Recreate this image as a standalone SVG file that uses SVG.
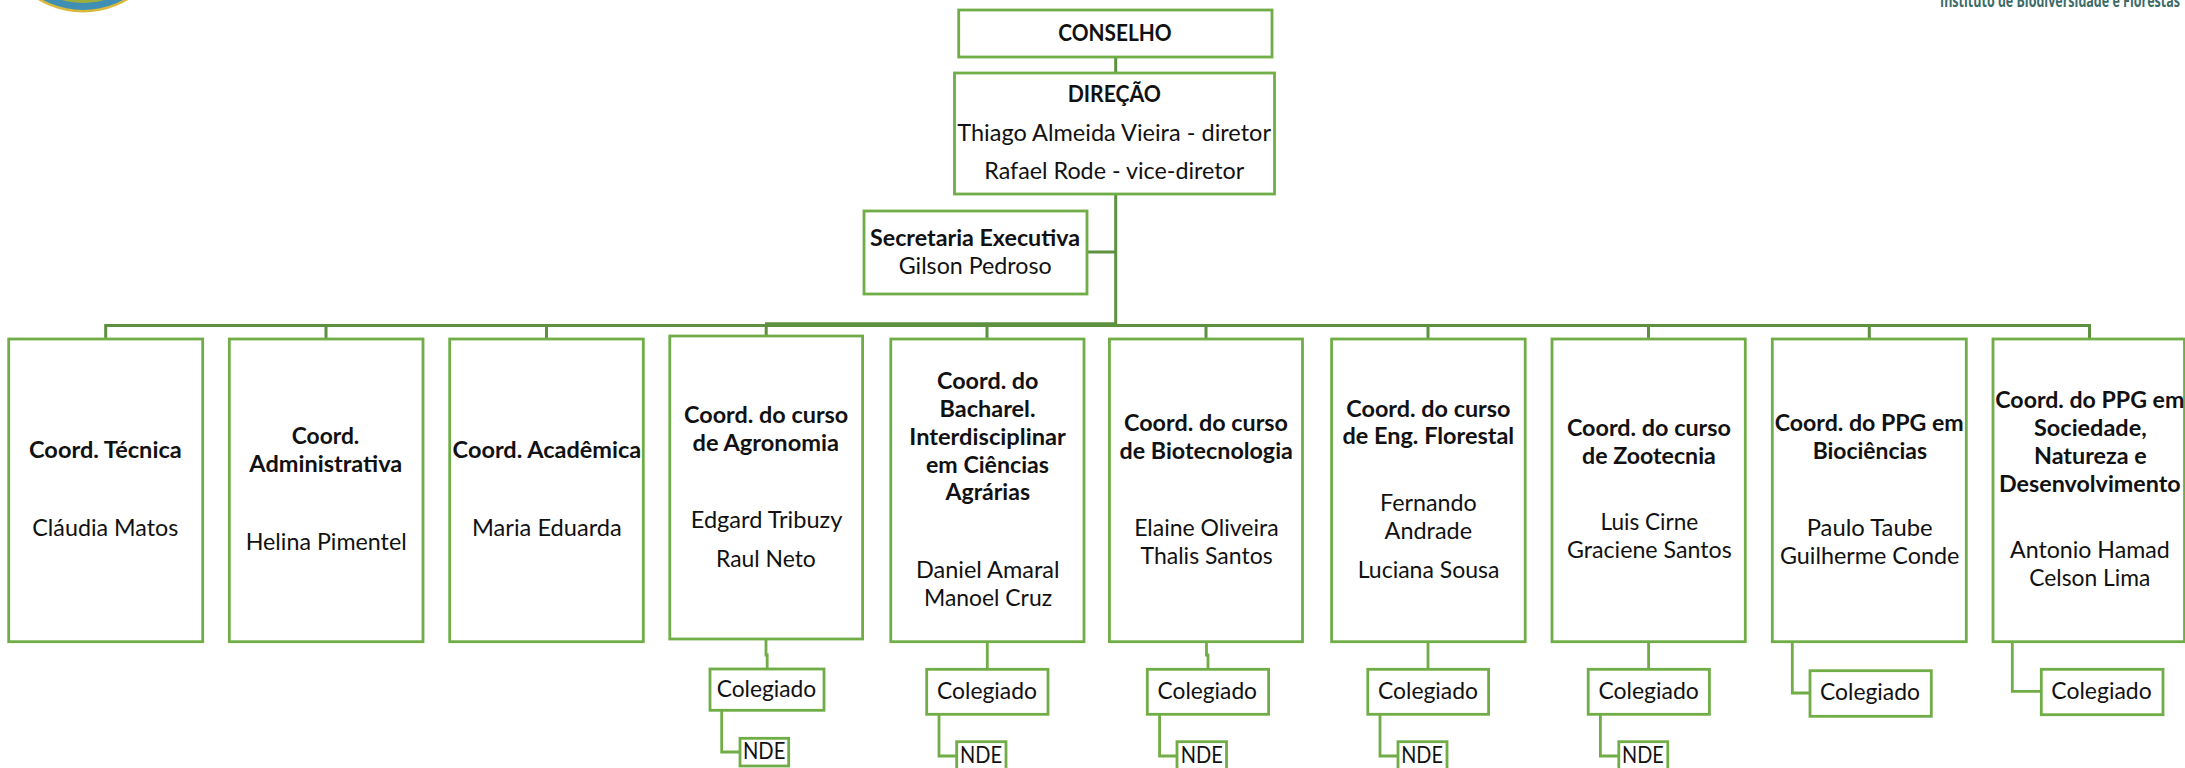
<svg xmlns="http://www.w3.org/2000/svg" width="2185" height="768" viewBox="0 0 2185 768">
<style>
.b{fill:#fff;stroke:#70ad47;stroke-width:2.8}
.c{fill:none;stroke:#70ad47;stroke-width:2.8}
.m{fill:none;stroke:#5d9140;stroke-width:3}
text{font-family:"Lato","Noto Sans",sans-serif;font-size:23px;fill:#111}
.t{font-weight:700}
</style>
<rect width="2185" height="768" fill="#fff"/>
<g id="logo-ufopa">
<circle cx="83" cy="-75" r="87.5" fill="#d9b93c"/>
<circle cx="83" cy="-75" r="85" fill="#3f8fb5"/>
<circle cx="83" cy="-75" r="78" fill="#9dae3c"/>
</g>
<g id="logo-ibef">
<text x="1940" y="6.5" textLength="240" lengthAdjust="spacingAndGlyphs" style="font-family:'Open Sans','Noto Sans',sans-serif;font-size:17px;font-weight:700;fill:#3d6b68">Instituto de Biodiversidade e Florestas</text>
</g>
<g id="connectors">
<path class="m" d="M1115.7 57V73M1115.7 194V325.5M1087 252H1115.7"/>
<path class="m" style="stroke-width:4" d="M765 324.3H1117"/>
<path class="m" d="M105.7 339V325.5H2089.5V339M326 325.5V339M546.5 325.5V339M766.2 325.5V336M987 325.5V339M1206 325.5V339M1428 325.5V339M1648.5 325.5V339M1869.3 325.5V339"/>
<path class="c" d="M766 639V655H767.2V669M987.3 641V669M1206.5 641V655H1208V669M1428 641V669M1648.6 641V669"/>
<path class="c" d="M721.7 710V752H740M939 714V756H956.7M1159.6 714V756H1177M1380 714V756H1398M1600.4 714V756H1618.8M1792.3 641V693H1810M2012.3 641V691.3H2041.3"/>
</g>
<g id="conselho"><rect class="b" x="958.7" y="10" width="313.3" height="47"/><text class="t" x="1058.3" y="40.7" textLength="113.4" lengthAdjust="spacingAndGlyphs">CONSELHO</text></g>
<g id="direcao"><rect class="b" x="954.5" y="73" width="320" height="121"/>
<text class="t" x="1067.7" y="101.7" textLength="93.3" lengthAdjust="spacingAndGlyphs">DIREÇÃO</text>
<text x="957.3" y="141.3" textLength="313.7" lengthAdjust="spacingAndGlyphs">Thiago Almeida Vieira - diretor</text>
<text x="984.3" y="179.3" textLength="260" lengthAdjust="spacingAndGlyphs">Rafael Rode - vice-diretor</text></g>
<g id="secretaria"><rect class="b" x="864" y="211" width="223" height="83"/>
<text class="t" x="870" y="246" textLength="210" lengthAdjust="spacingAndGlyphs">Secretaria Executiva</text>
<text x="898.7" y="274" textLength="153" lengthAdjust="spacingAndGlyphs">Gilson Pedroso</text></g>
<g id="coord-tecnica"><rect class="b" x="8.7" y="339" width="194" height="302.7"/>
<text class="t" x="29" y="458.3" textLength="152.7" lengthAdjust="spacingAndGlyphs">Coord. Técnica</text>
<text x="32.3" y="536" textLength="146" lengthAdjust="spacingAndGlyphs">Cláudia Matos</text></g>
<g id="coord-administrativa"><rect class="b" x="229.3" y="339" width="193.7" height="302.7"/>
<text class="t" x="291.7" y="444.3" textLength="67.6" lengthAdjust="spacingAndGlyphs">Coord.</text>
<text class="t" x="249.3" y="472.3" textLength="153" lengthAdjust="spacingAndGlyphs">Administrativa</text>
<text x="245.7" y="549.7" textLength="161" lengthAdjust="spacingAndGlyphs">Helina Pimentel</text></g>
<g id="coord-academica"><rect class="b" x="449.7" y="339" width="193.6" height="302.7"/>
<text class="t" x="452.6" y="458.3" textLength="188.6" lengthAdjust="spacingAndGlyphs">Coord. Acadêmica</text>
<text x="472" y="536" textLength="149.8" lengthAdjust="spacingAndGlyphs">Maria Eduarda</text></g>
<g id="coord-agronomia"><rect class="b" x="669.8" y="336" width="192.8" height="303"/>
<text class="t" x="684" y="422.7" textLength="164.3" lengthAdjust="spacingAndGlyphs">Coord. do curso</text>
<text class="t" x="692.5" y="450.7" textLength="146.5" lengthAdjust="spacingAndGlyphs">de Agronomia</text>
<text x="690.8" y="527.7" textLength="151.6" lengthAdjust="spacingAndGlyphs">Edgard Tribuzy</text>
<text x="716" y="566.7" textLength="99.8" lengthAdjust="spacingAndGlyphs">Raul Neto</text></g>
<g id="coord-bacharel"><rect class="b" x="890.8" y="339" width="193.2" height="302.7"/>
<text class="t" x="937" y="388.7" textLength="101.5" lengthAdjust="spacingAndGlyphs">Coord. do</text>
<text class="t" x="939.6" y="416.7" textLength="95.9" lengthAdjust="spacingAndGlyphs">Bacharel.</text>
<text class="t" x="909.3" y="444.7" textLength="156.5" lengthAdjust="spacingAndGlyphs">Interdisciplinar</text>
<text class="t" x="926" y="472.7" textLength="123" lengthAdjust="spacingAndGlyphs">em Ciências</text>
<text class="t" x="945.5" y="500.3" textLength="84.5" lengthAdjust="spacingAndGlyphs">Agrárias</text>
<text x="916" y="577.7" textLength="143.5" lengthAdjust="spacingAndGlyphs">Daniel Amaral</text>
<text x="924" y="605.7" textLength="128" lengthAdjust="spacingAndGlyphs">Manoel Cruz</text></g>
<g id="coord-biotecnologia"><rect class="b" x="1109.4" y="339" width="193.1" height="302.7"/>
<text class="t" x="1124" y="430.7" textLength="164" lengthAdjust="spacingAndGlyphs">Coord. do curso</text>
<text class="t" x="1119.5" y="458.7" textLength="173.4" lengthAdjust="spacingAndGlyphs">de Biotecnologia</text>
<text x="1134.2" y="536" textLength="144.4" lengthAdjust="spacingAndGlyphs">Elaine Oliveira</text>
<text x="1140.5" y="563.7" textLength="132.2" lengthAdjust="spacingAndGlyphs">Thalis Santos</text></g>
<g id="coord-florestal"><rect class="b" x="1331.6" y="339" width="193.6" height="302.7"/>
<text class="t" x="1346.3" y="416.7" textLength="164.2" lengthAdjust="spacingAndGlyphs">Coord. do curso</text>
<text class="t" x="1342.5" y="444.3" textLength="171.7" lengthAdjust="spacingAndGlyphs">de Eng. Florestal</text>
<text x="1380" y="511" textLength="96.8" lengthAdjust="spacingAndGlyphs">Fernando</text>
<text x="1384.6" y="538.7" textLength="87.4" lengthAdjust="spacingAndGlyphs">Andrade</text>
<text x="1357.7" y="577.7" textLength="141.8" lengthAdjust="spacingAndGlyphs">Luciana Sousa</text></g>
<g id="coord-zootecnia"><rect class="b" x="1552" y="339" width="193.3" height="302.7"/>
<text class="t" x="1566.9" y="435.7" textLength="164.1" lengthAdjust="spacingAndGlyphs">Coord. do curso</text>
<text class="t" x="1582" y="463.7" textLength="133.8" lengthAdjust="spacingAndGlyphs">de Zootecnia</text>
<text x="1600.5" y="530" textLength="97.7" lengthAdjust="spacingAndGlyphs">Luis Cirne</text>
<text x="1566.9" y="557.7" textLength="164.9" lengthAdjust="spacingAndGlyphs">Graciene Santos</text></g>
<g id="coord-ppg-biociencias"><rect class="b" x="1772.3" y="339" width="194" height="302.7"/>
<text class="t" x="1774.7" y="430.7" textLength="189" lengthAdjust="spacingAndGlyphs">Coord. do PPG em</text>
<text class="t" x="1812.7" y="458.7" textLength="114.3" lengthAdjust="spacingAndGlyphs">Biociências</text>
<text x="1806.7" y="536" textLength="126" lengthAdjust="spacingAndGlyphs">Paulo Taube</text>
<text x="1780" y="564" textLength="179.3" lengthAdjust="spacingAndGlyphs">Guilherme Conde</text></g>
<g id="coord-ppg-sociedade"><rect class="b" x="1993" y="339" width="191.5" height="302.7"/>
<text class="t" x="1995.3" y="407.7" textLength="189" lengthAdjust="spacingAndGlyphs">Coord. do PPG em</text>
<text class="t" x="2034" y="435.7" textLength="112.7" lengthAdjust="spacingAndGlyphs">Sociedade,</text>
<text class="t" x="2034" y="463.7" textLength="112.7" lengthAdjust="spacingAndGlyphs">Natureza e</text>
<text class="t" x="1999" y="491.7" textLength="181.7" lengthAdjust="spacingAndGlyphs">Desenvolvimento</text>
<text x="2010" y="557.7" textLength="159.7" lengthAdjust="spacingAndGlyphs">Antonio Hamad</text>
<text x="2029.3" y="585.7" textLength="121" lengthAdjust="spacingAndGlyphs">Celson Lima</text></g>
<g id="colegiado-agronomia"><rect class="b" x="710" y="669" width="114" height="41.3"/><text x="716.7" y="697.3" textLength="99.6" lengthAdjust="spacingAndGlyphs">Colegiado</text></g>
<g id="nde-agronomia"><rect class="b" x="740" y="738.3" width="48.7" height="27.7"/><text x="743" y="759.3" textLength="42.3" lengthAdjust="spacingAndGlyphs">NDE</text></g>
<g id="colegiado-bacharel"><rect class="b" x="926.7" y="669.3" width="121.3" height="45"/><text x="937" y="699" textLength="100" lengthAdjust="spacingAndGlyphs">Colegiado</text></g>
<g id="nde-bacharel"><rect class="b" x="956.7" y="741.7" width="49.3" height="40"/><text x="960" y="763" textLength="42" lengthAdjust="spacingAndGlyphs">NDE</text></g>
<g id="colegiado-biotecnologia"><rect class="b" x="1147.3" y="669.3" width="121.3" height="45"/><text x="1157.6" y="699" textLength="99.4" lengthAdjust="spacingAndGlyphs">Colegiado</text></g>
<g id="nde-biotecnologia"><rect class="b" x="1177" y="741.7" width="49.5" height="40"/><text x="1180.8" y="763" textLength="42.1" lengthAdjust="spacingAndGlyphs">NDE</text></g>
<g id="colegiado-florestal"><rect class="b" x="1367.8" y="669.3" width="120.8" height="45"/><text x="1378" y="699" textLength="100" lengthAdjust="spacingAndGlyphs">Colegiado</text></g>
<g id="nde-florestal"><rect class="b" x="1398" y="741.7" width="49" height="40"/><text x="1401.2" y="763" textLength="41.7" lengthAdjust="spacingAndGlyphs">NDE</text></g>
<g id="colegiado-zootecnia"><rect class="b" x="1588.2" y="669.3" width="121.2" height="45"/><text x="1598.4" y="699" textLength="100.4" lengthAdjust="spacingAndGlyphs">Colegiado</text></g>
<g id="nde-zootecnia"><rect class="b" x="1618.8" y="741.7" width="49" height="40"/><text x="1622" y="763" textLength="41.7" lengthAdjust="spacingAndGlyphs">NDE</text></g>
<g id="colegiado-ppg-biociencias"><rect class="b" x="1810" y="670.7" width="121.3" height="45.6"/><text x="1820" y="700" textLength="100" lengthAdjust="spacingAndGlyphs">Colegiado</text></g>
<g id="colegiado-ppg-sociedade"><rect class="b" x="2041.3" y="669.3" width="121.7" height="45.4"/><text x="2051.3" y="698.7" textLength="100.4" lengthAdjust="spacingAndGlyphs">Colegiado</text></g>
</svg>
